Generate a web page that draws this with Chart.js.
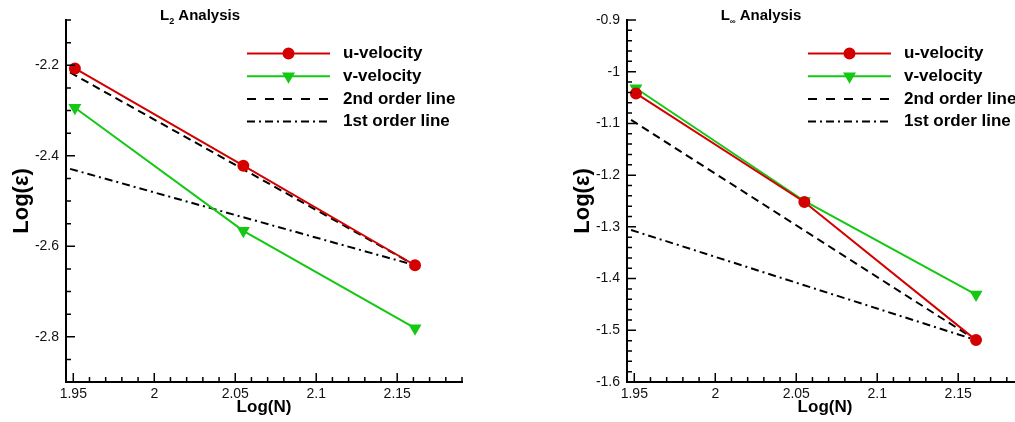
<!DOCTYPE html>
<html>
<head>
<meta charset="utf-8">
<title>L2 / Linf Analysis</title>
<script src="https://cdn.jsdelivr.net/npm/chart.js@4.4.1/dist/chart.umd.min.js"></script>
<style>
  html, body { margin: 0; padding: 0; background: #fff; overflow: hidden; }
  body { width: 1015px; height: 422px; position: relative; }
  .panel { position: absolute; top: 0; width: 507px; height: 422px; }
  #panelL2 { left: 0; }
  #panelLinf { left: 561px; }
</style>
</head>
<body>
<div class="panel" id="panelL2"><canvas id="chartL2" width="507" height="422"></canvas></div>
<div class="panel" id="panelLinf"><canvas id="chartLinf" width="507" height="422"></canvas></div>
<script>
// ------------------------------
// Data
// ------------------------------

const logN = [1.951, 2.055, 2.161];
const refLogN = [1.948, 2.161];
const xTicks = [1.95, 2, 2.05, 2.1, 2.15];

const l2U = [-2.207, -2.422, -2.642];
const l2V = [-2.294, -2.566, -2.781];
const l2Second = [-2.216, -2.642];
const l2First = [-2.429, -2.642];
const l2YTicks = [-2.8, -2.6, -2.4, -2.2];

const linfU = [-1.042, -1.252, -1.519];
const linfV = [-1.032, -1.250, -1.431];
const linfSecond = [-1.093, -1.519];
const linfFirst = [-1.306, -1.519];
const linfYTicks = [-1.6, -1.5, -1.4, -1.3, -1.2, -1.1, -1, -0.9];

const seriesNames = ["u-velocity", "v-velocity", "2nd order line", "1st order line"];

// ------------------------------
// Styling
// ------------------------------

const FONT = '"Liberation Sans", Arial, Helvetica, sans-serif';
const RED = "#d40000";
const GREEN = "#14c814";

function pairs(xs, ys) {
    return xs.map((x, i) => ({ x: x, y: ys[i] }));
}

function fmt(v) {
    return String(Math.round(v * 100) / 100);
}

// inward major / minor tick marks (Tecplot style)
const innerTicks = {
    id: "innerTicks",
    afterDraw(chart, args, opts) {
        const ctx = chart.ctx;
        const xs = chart.scales.x;
        const ys = chart.scales.y;
        const area = chart.chartArea;
        ctx.save();
        ctx.strokeStyle = "#000";
        ctx.lineWidth = 1.5;

        function each(scale, step, fn) {
            const majors = scale.ticks.map(t => t.value);
            const k0 = Math.ceil(scale.min / step - 1e-6);
            const k1 = Math.floor(scale.max / step + 1e-6);
            for (let k = k0; k <= k1; k++) {
                const v = k * step;
                const isMajor = majors.some(m => Math.abs(m - v) < step / 10);
                if (!isMajor) fn(scale.getPixelForValue(v), 5);
            }
            majors.forEach(m => fn(scale.getPixelForValue(m), 9));
        }

        ctx.beginPath();
        each(xs, opts.xMinor, (px, len) => {
            ctx.moveTo(px, area.bottom);
            ctx.lineTo(px, area.bottom - len);
        });
        each(ys, opts.yMinor, (py, len) => {
            ctx.moveTo(area.left, py);
            ctx.lineTo(area.left + len, py);
        });
        ctx.stroke();
        ctx.restore();
    }
};

// title with subscript, drawn above the plot
const subTitle = {
    id: "subTitle",
    afterDraw(chart, args, opts) {
        const ctx = chart.ctx;
        const cx = chart.chartArea.left + 134;
        const base = 20;
        ctx.save();
        ctx.fillStyle = "#000";
        ctx.textBaseline = "alphabetic";
        ctx.textAlign = "left";
        const big = "bold 15px " + FONT;
        const small = "bold " + opts.subSize + "px " + FONT;
        ctx.font = big;
        const wL = ctx.measureText("L").width;
        const wA = ctx.measureText(" Analysis").width;
        ctx.font = small;
        const wS = ctx.measureText(opts.sub).width;
        let x = cx - (wL + wS + wA) / 2;
        ctx.font = big;
        ctx.fillText("L", x, base);
        x += wL;
        ctx.font = small;
        ctx.fillText(opts.sub, x, base + 4);
        x += wS;
        ctx.font = big;
        ctx.fillText(" Analysis", x, base);
        ctx.restore();
    }
};

// legend with long line samples and centred markers
const lineLegend = {
    id: "lineLegend",
    afterDraw(chart) {
        const ctx = chart.ctx;
        const left = chart.chartArea.left;
        const x0 = left + 181;
        const x1 = left + 264;
        const tx = left + 277;
        ctx.save();
        chart.data.datasets.forEach((ds, i) => {
            const y = 53.5 + i * 22.7;
            ctx.strokeStyle = ds.borderColor;
            ctx.lineWidth = ds.borderWidth;
            ctx.setLineDash(ds.legendDash || []);
            ctx.beginPath();
            ctx.moveTo(x0, y);
            ctx.lineTo(x1, y);
            ctx.stroke();
            ctx.setLineDash([]);
            if (ds.pointRadius > 0) {
                ctx.fillStyle = ds.pointBackgroundColor;
                ctx.strokeStyle = ds.pointBorderColor;
                Chart.helpers.drawPoint(ctx, {
                    pointStyle: ds.pointStyle,
                    rotation: ds.pointRotation || 0,
                    radius: ds.pointRadius,
                    borderWidth: 1
                }, (x0 + x1) / 2, y);
            }
            ctx.fillStyle = "#000";
            ctx.font = "bold 17px " + FONT;
            ctx.textBaseline = "middle";
            ctx.textAlign = "left";
            ctx.fillText(ds.label, tx, y);
        });
        ctx.restore();
    }
};

function makeChart(id, cfg) {
    return new Chart(document.getElementById(id), {
        type: "scatter",
        data: {
            datasets: [
                {
                    label: seriesNames[0],
                    data: pairs(logN, cfg.u),
                    showLine: true,
                    borderColor: RED,
                    borderWidth: 2,
                    pointStyle: "circle",
                    pointRadius: 5,
                    pointBackgroundColor: RED,
                    pointBorderColor: RED,
                    clip: false
                },
                {
                    label: seriesNames[1],
                    data: pairs(logN, cfg.v),
                    showLine: true,
                    borderColor: GREEN,
                    borderWidth: 2,
                    pointStyle: "triangle",
                    pointRotation: 180,
                    pointRadius: 5.5,
                    pointBackgroundColor: GREEN,
                    pointBorderColor: GREEN,
                    clip: false
                },
                {
                    label: seriesNames[2],
                    data: pairs(refLogN, cfg.second),
                    showLine: true,
                    borderColor: "#000",
                    borderWidth: 2,
                    borderDash: [8, 5],
                    legendDash: [9, 9],
                    pointRadius: 0,
                    clip: false
                },
                {
                    label: seriesNames[3],
                    data: pairs(refLogN, cfg.first),
                    showLine: true,
                    borderColor: "#000",
                    borderWidth: 2,
                    borderDash: [8, 4, 2, 4],
                    legendDash: [8, 4, 2, 4],
                    pointRadius: 0,
                    clip: false
                }
            ]
        },
        options: {
            responsive: false,
            animation: false,
            devicePixelRatio: 1,
            layout: { padding: { top: 20, right: 45, left: 0, bottom: 0 } },
            plugins: {
                legend: { display: false },
                tooltip: { enabled: false },
                innerTicks: { xMinor: 0.01, yMinor: cfg.yMinor },
                subTitle: { sub: cfg.sub, subSize: cfg.subSize }
            },
            scales: {
                x: {
                    type: "linear",
                    min: 1.9455,
                    max: 2.19,
                    afterBuildTicks: s => { s.ticks = xTicks.map(v => ({ value: v })); },
                    afterFit: s => { s.height = 40; },
                    grid: { display: false, drawTicks: false },
                    border: { display: true, color: "#000", width: 2 },
                    ticks: {
                        callback: fmt,
                        color: "#111",
                        padding: 4,
                        maxRotation: 0,
                        autoSkip: false,
                        font: { family: FONT, size: 14 }
                    },
                    title: {
                        display: true,
                        text: "Log(N)",
                        color: "#000",
                        padding: { top: 0, bottom: 4 },
                        font: { family: FONT, size: 17, weight: "bold" }
                    }
                },
                y: {
                    type: "linear",
                    min: cfg.yMin,
                    max: cfg.yMax,
                    afterBuildTicks: s => { s.ticks = cfg.yTicks.map(v => ({ value: v })); },
                    afterFit: s => { s.width = 66; },
                    grid: { display: false, drawTicks: false },
                    border: { display: true, color: "#000", width: 2 },
                    ticks: {
                        callback: fmt,
                        color: "#111",
                        padding: 7,
                        autoSkip: false,
                        font: { family: FONT, size: 14 }
                    },
                    title: {
                        display: true,
                        text: "Log(ε)",
                        color: "#000",
                        padding: { top: 9, bottom: 0 },
                        font: { family: FONT, size: 22, weight: "bold" }
                    }
                }
            }
        },
        plugins: [innerTicks, subTitle, lineLegend]
    });
}

// ------------------------------
// L2 chart
// ------------------------------

makeChart("chartL2", {
    u: l2U,
    v: l2V,
    second: l2Second,
    first: l2First,
    yMin: -2.9,
    yMax: -2.1,
    yTicks: l2YTicks,
    yMinor: 0.05,
    sub: "2",
    subSize: 9
});

// ------------------------------
// L-infinity chart
// ------------------------------

makeChart("chartLinf", {
    u: linfU,
    v: linfV,
    second: linfSecond,
    first: linfFirst,
    yMin: -1.6,
    yMax: -0.9,
    yTicks: linfYTicks,
    yMinor: 0.02,
    sub: "∞",
    subSize: 8
});
</script>
</body>
</html>
